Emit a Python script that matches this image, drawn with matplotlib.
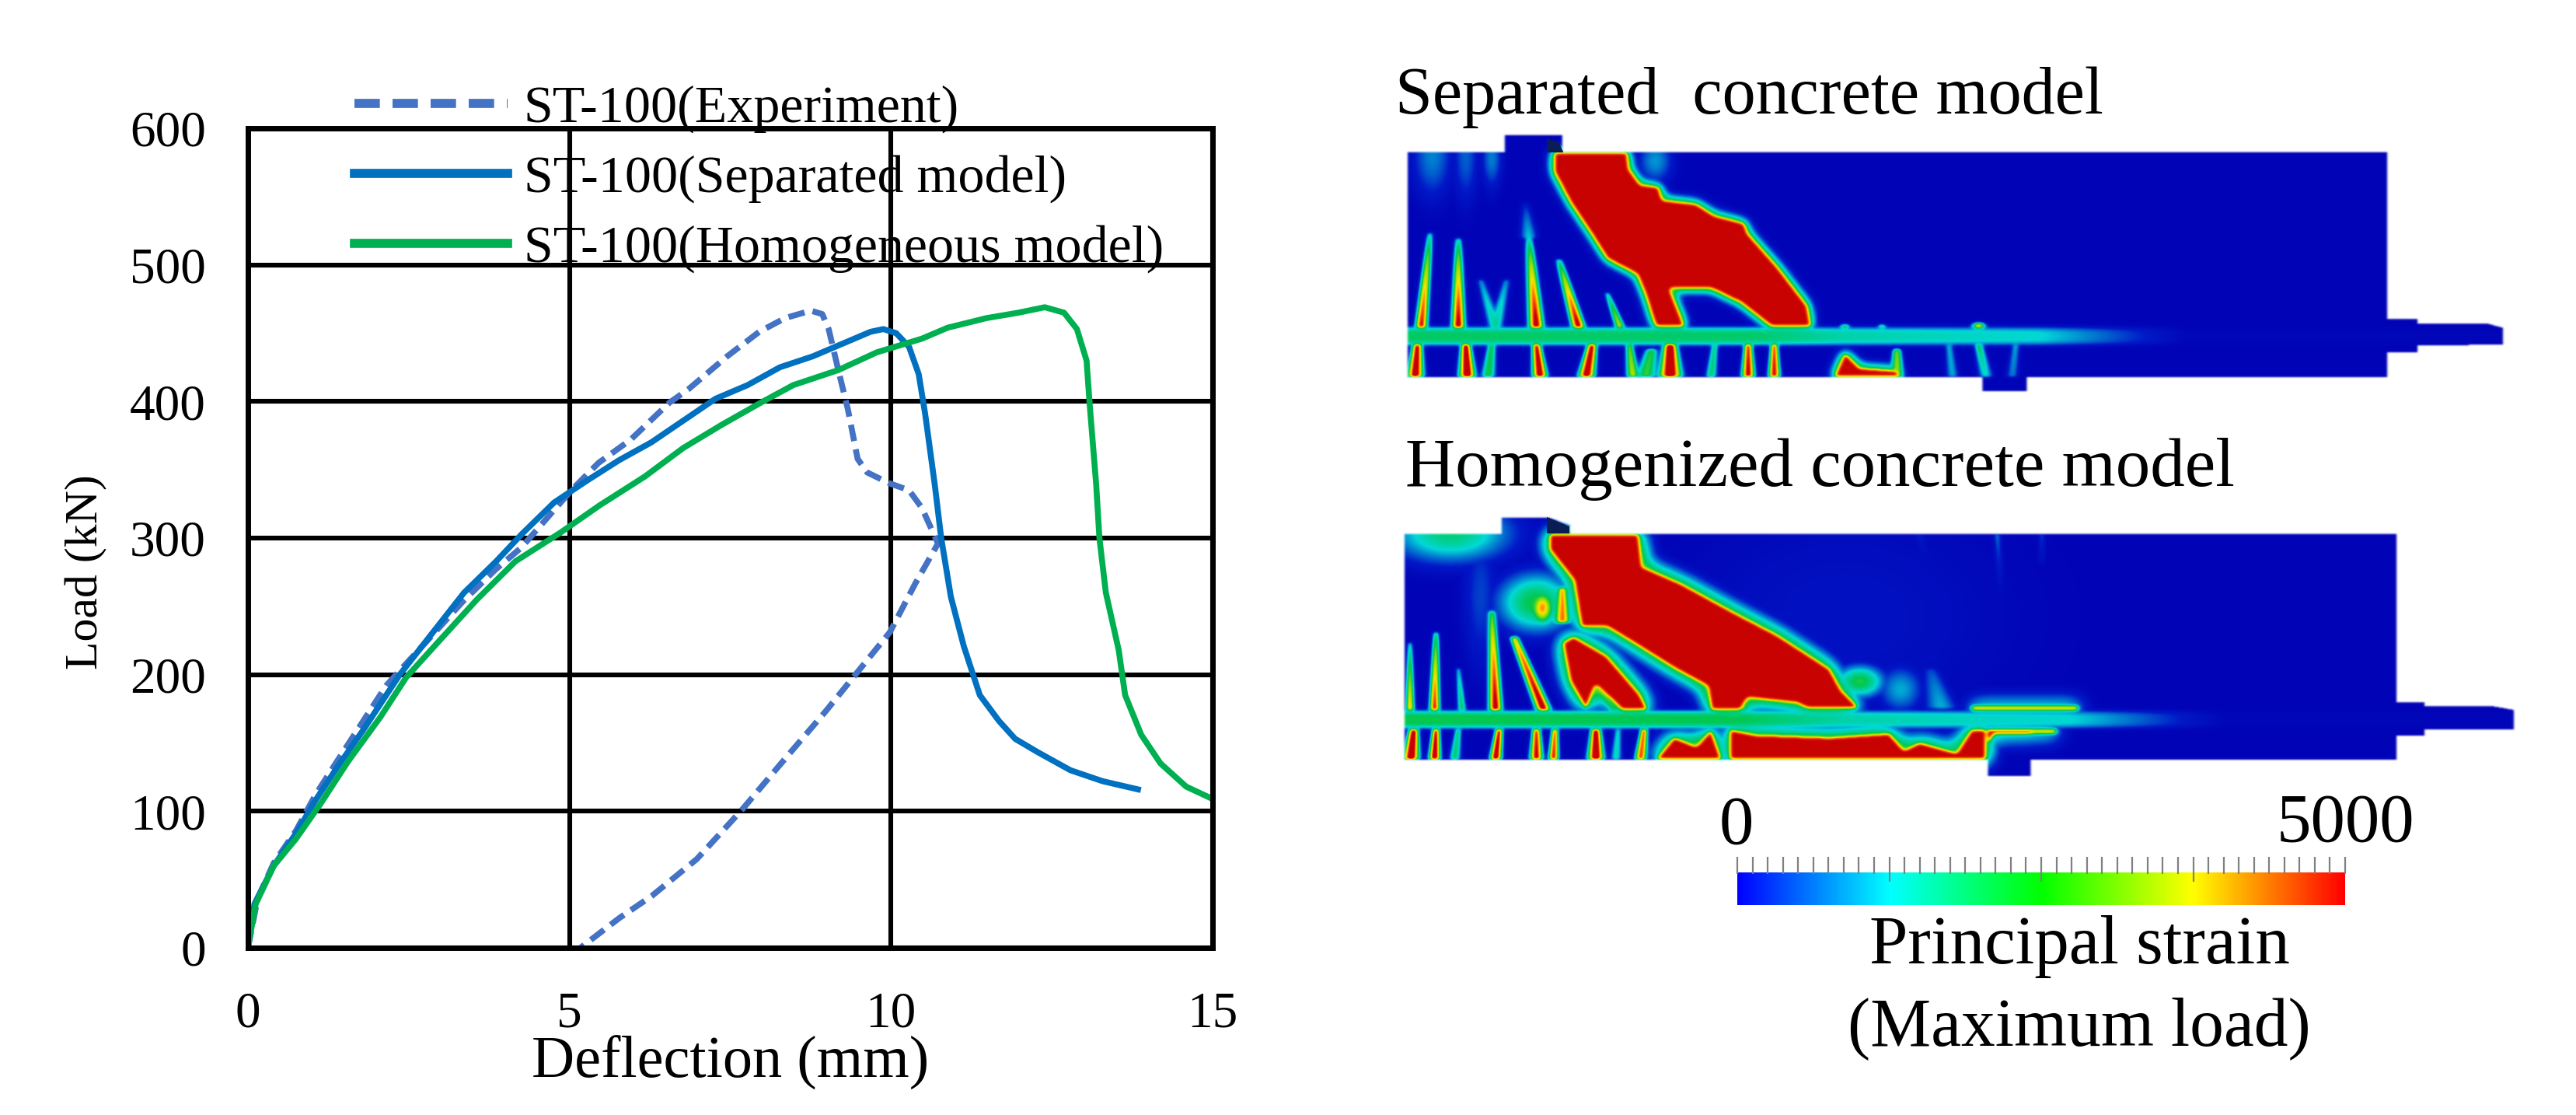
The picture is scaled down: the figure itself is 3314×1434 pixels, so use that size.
#!/usr/bin/env python3
"""Load-deflection curves with the two principal strain contour panels."""

import matplotlib
matplotlib.use('Agg')
import matplotlib.pyplot as plt
from matplotlib.colors import LinearSegmentedColormap
from matplotlib.path import Path
from matplotlib.patches import Polygon
import numpy as np

plt.rcParams['font.family'] = ['Liberation Serif', 'DejaVu Serif']

W, H = 3314, 1434

# ---------- curve data (deflection mm, load kN) ----------
exp_x = [0, 0.15, 0.4, 0.75, 1.05, 1.35, 1.75, 2.15, 2.4, 2.85, 3.35, 3.85, 4.25, 4.75, 5.05,
         5.45, 5.95, 6.55, 6.85, 7.45, 7.95, 8.35, 8.75, 8.93, 9.03, 9.18, 9.33, 9.48, 9.63,
         9.98, 10.28, 10.48, 10.73, 10.38, 9.98, 9.48, 8.98, 8.38, 7.68, 6.98, 6.28, 5.78, 5.17]
exp_y = [0, 36, 62, 86, 112, 134, 163, 192, 205, 228, 254, 277, 293, 320, 336,
         355, 372, 399, 409, 433, 451, 461, 466.5, 464, 453, 423, 394, 358, 348,
         340, 335, 322, 296, 267, 231, 202, 173, 140, 101, 65, 38, 22, 0]

sep_x = [0, 0.1, 0.4, 0.75, 1.05, 1.4, 1.8, 2.36, 2.76, 3.36, 3.86, 4.26, 4.76, 5.27, 5.77,
         6.27, 6.77, 7.27, 7.77, 8.27, 8.78, 9.28, 9.68, 9.88, 10.08, 10.28, 10.43, 10.53,
         10.68, 10.78, 10.93, 11.13, 11.38, 11.68, 11.93, 12.29, 12.79, 13.29, 13.84]
sep_y = [0, 32, 60, 84, 108, 133, 160, 200, 224, 260, 283, 303, 326, 342, 357,
         370, 386, 402, 412, 425, 433, 443, 451, 453, 450, 440, 420, 391,
         339, 300, 257, 221, 185, 166, 153, 143, 130, 122, 116]

hom_x = [0, 0.12, 0.4, 0.75, 1.15, 1.55, 2.06, 2.46, 2.96, 3.56, 4.16, 4.86, 5.47, 6.17, 6.77,
         7.37, 7.97, 8.48, 9.18, 9.78, 10.48, 10.88, 11.48, 11.98, 12.39, 12.69, 12.89, 13.04,
         13.09, 13.19, 13.24, 13.34, 13.54, 13.64, 13.89, 14.19, 14.59, 15.0]
hom_y = [0, 32, 60, 80, 107, 136, 169, 198, 224, 255, 283, 304, 324, 345, 366,
         383, 399, 412, 423, 436, 446, 454, 461, 465, 469, 465, 453, 430,
         397, 339, 300, 260, 218, 185, 156, 135, 118, 109]

x_ticks = [0, 5, 10, 15]
y_ticks = [0, 100, 200, 300, 400, 500, 600]
series_labels = ['ST-100(Experiment)', 'ST-100(Separated model)', 'ST-100(Homogeneous model)']

# ---------- contour panel 1, traced in crop units ----------
p1_outline = [[(32, 405), (1350, 405), (1350, 1275), (32, 1275)],
              [(163, 340), (240, 340), (240, 405), (163, 405)],
              [(805, 1275), (865, 1275), (865, 1330), (805, 1330)],
              [(1350, 1050), (1390, 1050), (1390, 1180), (1350, 1180)],
              [(1390, 1070), (1485, 1070), (1505, 1085), (1505, 1150), (1390, 1155)]]
p1_red = [[(228, 405), (328, 405), (330, 470), (345, 530), (370, 540), (375, 590), (420, 605),
           (445, 650), (485, 680), (490, 720), (530, 850), (570, 1000), (575, 1080), (520, 1080),
           (480, 990), (440, 935), (385, 935), (405, 1080), (365, 1080), (350, 950), (340, 880),
           (300, 820), (280, 730), (250, 600), (228, 480)],
          [(605, 1275), (620, 1180), (640, 1240), (690, 1250), (695, 1275)]]
# x0, y0, x1, y1, half width, strength at y0, strength at y1
p1_cracks = [(62, 720, 50, 1085, 7, .28, 1.1), (100, 740, 100, 1085, 8, .28, 1.15),
             (195, 740, 205, 1085, 9, .28, 1.15), (235, 820, 262, 1085, 8, .3, 1.15),
             (300, 950, 318, 1085, 6, .3, .75), (130, 900, 150, 1085, 9, .2, .38),
             (165, 900, 150, 1085, 9, .2, .38), (190, 600, 195, 740, 11, .05, .28),
             (45, 1150, 42, 1275, 10, 1.15, 1.15), (110, 1150, 112, 1275, 10, 1.2, 1.2),
             (145, 1150, 140, 1275, 9, .5, .5), (205, 1150, 210, 1275, 9, 1.15, 1.15),
             (280, 1150, 272, 1275, 10, 1.15, 1.15), (330, 1150, 335, 1275, 8, .6, .7),
             (385, 1150, 385, 1275, 14, 1.25, 1.2), (360, 1170, 352, 1275, 14, .5, .52),
             (490, 1150, 490, 1275, 8, 1.1, 1.1), (525, 1150, 525, 1275, 7, 1.1, 1.1),
             (445, 1150, 440, 1275, 7, .45, .45), (690, 1170, 690, 1275, 9, .65, .65),
             (800, 1150, 810, 1275, 9, .55, .3), (850, 1150, 845, 1275, 8, .3, .2),
             (760, 1150, 765, 1275, 8, .3, .25)]
p1_blobs = [(800, 1078, 8, 10, .9), (620, 1080, 6, 6, .7), (670, 1080, 5, 6, .6),
            (65, 420, 28, 170, .2), (110, 420, 18, 190, .17), (145, 430, 14, 120, .2),
            (365, 440, 24, 90, .22)]
# x stops and strength of the rebar band, band centre and half height
p1_band_x = [32, 500, 620, 880, 1080]
p1_band_s = [.43, .42, .34, .29, .03]
p1_band_c, p1_band_h = 1118, 36

# ---------- contour panel 2 ----------
p2_outline = [[(28, 378), (1362, 378), (1362, 1253), (28, 1253)],
              [(158, 315), (220, 315), (250, 345), (250, 378), (158, 378)],
              [(812, 1253), (870, 1253), (870, 1315), (812, 1315)],
              [(1362, 1030), (1400, 1030), (1400, 1160), (1362, 1160)],
              [(1400, 1045), (1490, 1045), (1520, 1060), (1520, 1135), (1400, 1135)]]
p2_red = [[(222, 378), (343, 378), (348, 505), (400, 570), (470, 680), (530, 770), (600, 900),
           (615, 980), (640, 1055), (570, 1055), (555, 1035), (490, 1015), (480, 1060), (440, 1060),
           (435, 970), (390, 900), (340, 810), (300, 740), (265, 740), (255, 560), (222, 440)],
          [(255, 775), (300, 850), (345, 1000), (355, 1060), (320, 1060), (285, 965), (272, 1060),
           (250, 950), (240, 800)],
          [(465, 1135), (500, 1155), (600, 1165), (680, 1150), (700, 1215), (720, 1185),
           (770, 1225), (790, 1135), (810, 1135), (810, 1253), (465, 1253)],
          [(365, 1253), (390, 1165), (420, 1200), (440, 1135), (455, 1253)],
          [(810, 1135), (905, 1135), (905, 1150), (820, 1155), (812, 1200)],
          [(790, 1044), (935, 1044), (935, 1060), (790, 1060)]]
p2_cracks = [(145, 680, 150, 1060, 8, .5, 1.15), (175, 780, 215, 1060, 9, .8, 1.15),
             (70, 760, 68, 1060, 6, .4, 1.1), (35, 800, 35, 1060, 5, .3, .9),
             (100, 900, 105, 1060, 5, .3, .5), (285, 965, 310, 1060, 7, .7, .5),
             (430, 970, 440, 1050, 11, .3, .35), (240, 590, 240, 720, 10, .9, .92),
             (40, 1135, 36, 1253, 10, 1.2, 1.2), (70, 1135, 68, 1253, 7, 1.2, 1.2),
             (100, 1135, 95, 1253, 7, .45, .45), (155, 1135, 150, 1253, 7, 1.2, 1.2),
             (205, 1135, 205, 1253, 8, 1.1, 1.1), (230, 1135, 228, 1253, 6, 1.1, 1.1),
             (285, 1135, 285, 1253, 10, 1.2, 1.2), (350, 1135, 345, 1253, 7, 1.1, 1.0),
             (315, 1135, 312, 1253, 7, .35, .35), (825, 380, 830, 610, 7, .25, .05),
             (885, 380, 885, 500, 6, .2, .05), (720, 380, 730, 480, 10, .12, .05),
             (735, 900, 750, 1055, 22, .12, .25)]
p2_blobs = [(90, 378, 80, 110, .4), (205, 645, 50, 110, .47), (213, 665, 14, 60, .86),
            (640, 950, 32, 60, .48), (695, 980, 30, 90, .24), (345, 1045, 5, 5, .8),
            (480, 1050, 10, 5, .9), (130, 620, 25, 300, .14), (620, 700, 260, 500, .07)]
p2_band_x = [28, 480, 620, 920, 1130]
p2_band_s = [.46, .45, .34, .29, .03]
p2_band_c, p2_band_h = 1097, 35

# ---------- colours and bar ----------
strain_colors = ['#0000B4', '#0018C8', '#00D8D8', '#00C850', '#A0E000', '#FFE000', '#FF6000', '#C80000']
strain_stops = [0, .1, .28, .45, .62, .75, .88, 1]
bar_colors = ['#0000FF', '#00FFFF', '#00FF00', '#FFFF00', '#FF0000']
strain_cmap = LinearSegmentedColormap.from_list('strain', list(zip(strain_stops, strain_colors)))
bar_cmap = LinearSegmentedColormap.from_list('bar', bar_colors)


def blur(a, sx, sy):
    """Separable gaussian blur, widths in grid cells."""
    for axis, s in ((1, sx), (0, sy)):
        r = int(3 * s) + 1
        k = np.exp(-0.5 * (np.arange(-r, r + 1) / s) ** 2)
        k /= k.sum()
        a = np.apply_along_axis(lambda v: np.convolve(np.pad(v, r, mode='edge'), k, mode='valid'), axis, a)
    return a


def contour_rgba(outline, reds, cracks, blobs, band_x, band_s, band_c, band_h, z_h, halo):
    """Build the strain field on a grid of about one pixel and colour it."""
    zx = np.arange(0, 1560, 1.045)
    zy = np.arange(0, z_h, 3.0)
    xx, yy = np.meshgrid(zx, zy)
    pts = np.column_stack([xx.ravel(), yy.ravel()])

    def mask(poly):
        return Path(poly).contains_points(pts).reshape(xx.shape).astype(float)

    field = np.full(xx.shape, 0.015)
    for poly in reds:
        m = mask(poly)
        field = np.maximum(field, 0.7 * np.clip(blur(m, halo, halo), 0, 1) ** 0.6)
        field = np.maximum(field, np.clip(1.5 * blur(m, 2.2, 2.2) - 0.25, 0, 1))
    for x0, y0, x1, y1, w, s0, s1 in cracks:
        t = (yy - y0) / (y1 - y0)
        inside = (t >= 0) & (t <= 1)
        tt = np.clip(t, 0, 1)
        xc = x0 + (x1 - x0) * tt
        ww = w * (0.55 + 0.45 * tt)
        field = np.maximum(field, inside * (s0 + (s1 - s0) * tt ** 0.6) * np.exp(-((xx - xc) / ww) ** 2))
    for x0, y0, rx, ry, s in blobs:
        field = np.maximum(field, s * np.exp(-((xx - x0) / rx) ** 2 - ((yy - y0) / ry) ** 2))
    band = np.interp(xx, band_x, band_s) * np.exp(-((yy - band_c) / band_h) ** 4)
    field = np.maximum(field, band)
    field = blur(field, 2.2, 1.8)

    rgba = strain_cmap(np.clip(field, 0, 1))
    body = np.zeros(xx.shape)
    for poly in outline:
        body = np.maximum(body, mask(poly))
    rgba[..., 3] = np.clip(blur(body, 1.3, 1.0), 0, 1)
    return rgba, zx[-1] / 1.045, zy[-1] / 3.0


fig = plt.figure(figsize=(W / 100, H / 100), dpi=100, facecolor='white')

# ---------- right side, drawn in pixel units ----------
over = fig.add_axes([0, 0, 1, 1])
over.set_axis_off()

img1, w1, h1 = contour_rgba(p1_outline, p1_red, p1_cracks, p1_blobs,
                            p1_band_x, p1_band_s, p1_band_c, p1_band_h, 1380, 6)
over.imshow(img1, extent=(1780, 1780 + w1, 60 + h1, 60), aspect='auto', interpolation='bilinear')
img2, w2, h2 = contour_rgba(p2_outline, p2_red, p2_cracks, p2_blobs,
                            p2_band_x, p2_band_s, p2_band_c, p2_band_h, 1320, 11)
over.imshow(img2, extent=(1780, 1780 + w2, 560 + h2, 560), aspect='auto', interpolation='bilinear')

# dark corners of the load plates
over.add_patch(Polygon([(1990, 178), (2005, 183), (2011, 195), (2011, 196), (1990, 196)], color='#0A1E55', lw=0))
over.add_patch(Polygon([(1990, 665), (2019, 677), (2019, 686), (1990, 686)], color='#0A1E55', lw=0))

# colour bar and its ruler
gradient = np.linspace(0, 1, 256).reshape(1, -1)
over.imshow(gradient, cmap=bar_cmap, extent=(2235, 3017, 1164, 1122), aspect='auto')
ruler_x = np.linspace(2235, 3017, 41)
for i, x in enumerate(ruler_x):
    long_tick = i % 10 == 0 and 0 < i < 40
    over.plot([x, x], [1102, 1134 if long_tick else 1124], color='#808080', lw=1.6, solid_capstyle='butt')

over.set_xlim(0, W)
over.set_ylim(H, 0)

over.text(1795, 125, 'Separated  concrete model', fontsize=62, ha='left', va='center')
over.text(1808, 603, 'Homogenized concrete model', fontsize=64, ha='left', va='center')
over.text(2234, 1063, '0', fontsize=64, ha='center', va='center')
over.text(3017, 1060, '5000', fontsize=64, ha='center', va='center')
over.text(2675, 1217, 'Principal strain', fontsize=64, ha='center', va='center')
over.text(2675, 1323, '(Maximum load)', fontsize=63, ha='center', va='center')

# ---------- load-deflection chart ----------
ax = fig.add_axes([319 / W, 1 - 1219 / H, (1560 - 319) / W, (1219 - 165) / H])
ax.patch.set_alpha(0)

ax.plot(exp_x, exp_y, color='#4472C4', lw=5.5, ls=(0, (2.8, 1.4)), label=series_labels[0])
ax.plot(sep_x, sep_y, color='#0070C0', lw=5.5, label=series_labels[1])
ax.plot(hom_x, hom_y, color='#00B050', lw=5.5, label=series_labels[2])

ax.set_xlim(0, 15)
ax.set_ylim(0, 600)
ax.set_xticks(x_ticks)
ax.set_yticks(y_ticks)
ax.tick_params(axis='x', length=0, labelsize=47, pad=40)
ax.tick_params(axis='y', length=0, labelsize=47, pad=39)
ax.grid(True, color='black', lw=4.4)
ax.set_axisbelow(True)
for spine in ax.spines.values():
    spine.set_linewidth(5)

ax.set_xlabel('Deflection (mm)', fontsize=55, va='center')
ax.xaxis.set_label_coords(0.5, -0.14)
ax.set_ylabel('Load (kN)', fontsize=43, va='center')
ax.yaxis.set_label_coords(-0.167, 0.459)

leg = ax.legend(loc='upper left', bbox_to_anchor=(456 / W, 1 - 109 / H), bbox_transform=fig.transFigure,
                frameon=False, fontsize=49, handlelength=2.9, handletextpad=0.3, labelspacing=0.41,
                borderpad=0, borderaxespad=0)
for line in leg.get_lines():
    line.set_linewidth(8.4)

fig.savefig('out.png', dpi=100)
plt.close(fig)
